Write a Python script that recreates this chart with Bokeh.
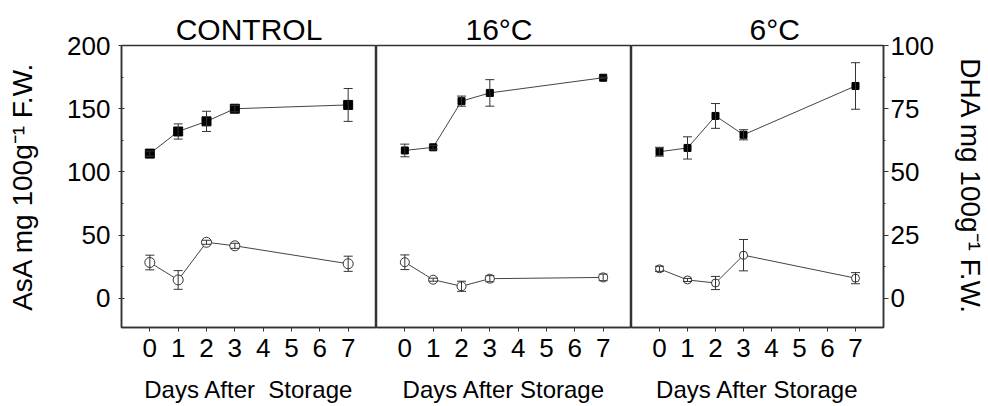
from bokeh.plotting import figure
from bokeh.models import Range1d, LinearAxis, FixedTicker, ColumnDataSource, Whisker, TeeHead, Title
from bokeh.layouts import row
from bokeh.embed import file_html
from bokeh.resources import INLINE

# ---------------- data ----------------
days = [0, 1, 2, 3, 7]
x_ticks = [0, 1, 2, 3, 4, 5, 6, 7]

asa_control = [114.5, 132.0, 140.0, 150.0, 153.0]
asa_control_err = [2.0, 6.0, 8.0, 2.5, 13.0]
dha_control = [14.2, 7.3, 22.2, 20.8, 13.7]
dha_control_err = [2.9, 3.7, 0.8, 1.0, 3.0]

asa_16 = [117.0, 119.5, 156.0, 162.5, 174.5]
asa_16_err = [5.0, 1.5, 4.0, 10.5, 0.5]
dha_16 = [14.3, 7.4, 4.8, 7.8, 8.3]
dha_16_err = [2.9, 0.6, 2.0, 1.2, 1.3]

asa_6 = [116.0, 119.0, 144.3, 129.4, 168.0]
asa_6_err = [3.5, 8.8, 9.8, 4.0, 18.4]
dha_6 = [11.7, 7.3, 6.1, 17.1, 8.0]
dha_6_err = [1.0, 0.6, 2.6, 6.2, 2.2]

asa_ticks = [0, 50, 100, 150, 200]
asa_minor = [-25, 25, 75, 125, 175]
dha_ticks = [0, 25, 50, 75, 100]
dha_minor = [-12.5, 12.5, 37.5, 62.5, 87.5]

titles = ["CONTROL", "16°C", "6°C"]
x_labels = ["Days After\u00a0 Storage", "Days After Storage", "Days After Storage"]
y_label_left = "AsA mg 100g⁻¹ F.W."
y_label_right = "DHA mg 100g⁻¹ F.W."

FONT = "Liberation Sans"
AX = "#333333"
H = 406
TOP = 45
BOTTOM = 79


def style_xaxis(p, label):
    ax = p.xaxis[0]
    ax.ticker = FixedTicker(ticks=x_ticks, minor_ticks=[])
    ax.axis_line_color = AX
    ax.axis_line_width = 1.5
    ax.major_tick_line_color = AX
    ax.major_tick_in = 0
    ax.major_tick_out = 4
    ax.minor_tick_line_color = None
    ax.major_label_standoff = 7
    ax.major_label_text_font = FONT
    ax.major_label_text_font_size = "26px"
    ax.major_label_text_color = "black"
    ax.axis_label = label
    ax.axis_label_text_font = FONT
    ax.axis_label_text_font_size = "24px"
    ax.axis_label_text_font_style = "normal"
    ax.axis_label_text_color = "black"
    ax.axis_label_standoff = 16


def make_fig(width, left, right, yaxis, title, xlabel, align, offset):
    p = figure(width=width, height=H, x_range=Range1d(-1, 8), y_range=Range1d(-23, 200),
               output_backend="svg", toolbar_location=None,
               y_axis_location=yaxis,
               min_border_left=left, min_border_right=right,
               min_border_top=TOP, min_border_bottom=BOTTOM)
    p.extra_y_ranges = {"dha": Range1d(-11.5, 100)}
    p.xgrid.visible = False
    p.ygrid.visible = False
    p.outline_line_color = AX
    p.outline_line_width = 1.5
    p.background_fill_color = "white"
    p.border_fill_color = "white"
    p.title = Title(text=title, align=align, offset=offset, standoff=0,
                    text_font=FONT, text_font_size="30px", text_font_style="normal",
                    text_color="black")
    style_xaxis(p, xlabel)
    return p


def draw(p, asa, asa_err, dha, dha_err, sq, ci):
    s_asa = ColumnDataSource(dict(x=days, y=asa,
                                  lo=[a - e for a, e in zip(asa, asa_err)],
                                  hi=[a + e for a, e in zip(asa, asa_err)]))
    s_dha = ColumnDataSource(dict(x=days, y=dha,
                                  lo=[a - e for a, e in zip(dha, dha_err)],
                                  hi=[a + e for a, e in zip(dha, dha_err)]))
    p.line("x", "y", source=s_asa, line_color="#444444", line_width=1)
    p.line("x", "y", source=s_dha, line_color="#444444", line_width=1, y_range_name="dha")
    p.scatter("x", "y", source=s_asa, marker="square", size=sq,
              fill_color="black", line_color="black")
    p.scatter("x", "y", source=s_dha, marker="circle", size=ci,
              fill_color="white", line_color="#333333", line_width=1, y_range_name="dha")
    for src, rn in ((s_asa, "default"), (s_dha, "dha")):
        w = Whisker(source=src, base="x", upper="hi", lower="lo",
                    line_color="#333333", line_width=1, level="overlay",
                    upper_head=TeeHead(size=9, line_color="#333333", line_width=1),
                    lower_head=TeeHead(size=9, line_color="#333333", line_width=1))
        if rn == "dha":
            w.y_range_name = "dha"
        p.add_layout(w)


# ---------- panel 1 ----------
p1 = make_fig(376, 121, 0, "left", titles[0], x_labels[0], "center", 0)
ya = p1.yaxis[0]
ya.ticker = FixedTicker(ticks=asa_ticks, minor_ticks=asa_minor)
ya.axis_line_color = AX
ya.axis_line_width = 1.5
ya.major_tick_line_color = AX
ya.major_tick_in = 3
ya.major_tick_out = 3
ya.minor_tick_line_color = AX
ya.minor_tick_in = 2
ya.minor_tick_out = 0
ya.major_label_standoff = 8
ya.major_label_text_font = FONT
ya.major_label_text_font_size = "26px"
ya.major_label_text_color = "black"
ya.axis_label = y_label_left
ya.axis_label_text_font = FONT
ya.axis_label_text_font_size = "28px"
ya.axis_label_text_font_style = "normal"
ya.axis_label_text_color = "black"
ya.axis_label_standoff = 26
draw(p1, asa_control, asa_control_err, dha_control, dha_control_err, 9, 10)

# ---------- panel 2 ----------
p2 = make_fig(255, 0, 0, None, titles[1], x_labels[1], "left", 89)
draw(p2, asa_16, asa_16_err, dha_16, dha_16_err, 7, 9)

# ---------- panel 3 ----------
p3 = make_fig(255 + 102, 0, 102, None, titles[2], x_labels[2], "left", 118)
ra = LinearAxis(y_range_name="dha")
ra.ticker = FixedTicker(ticks=dha_ticks, minor_ticks=dha_minor)
ra.axis_line_color = AX
ra.axis_line_width = 1.5
ra.major_tick_line_color = AX
ra.major_tick_in = 0
ra.major_tick_out = 5
ra.minor_tick_line_color = AX
ra.minor_tick_in = 0
ra.minor_tick_out = 2
ra.major_label_standoff = 2
ra.major_label_text_font = FONT
ra.major_label_text_font_size = "26px"
ra.major_label_text_color = "black"
ra.axis_label = y_label_right
ra.axis_label_text_font = FONT
ra.axis_label_text_font_size = "28px"
ra.axis_label_text_font_style = "normal"
ra.axis_label_text_color = "black"
ra.axis_label_standoff = 18
p3.add_layout(ra, "right")
draw(p3, asa_6, asa_6_err, dha_6, dha_6_err, 7, 8)

layout = row(p1, p2, p3)
open("out.html", "w").write(file_html(layout, INLINE))
